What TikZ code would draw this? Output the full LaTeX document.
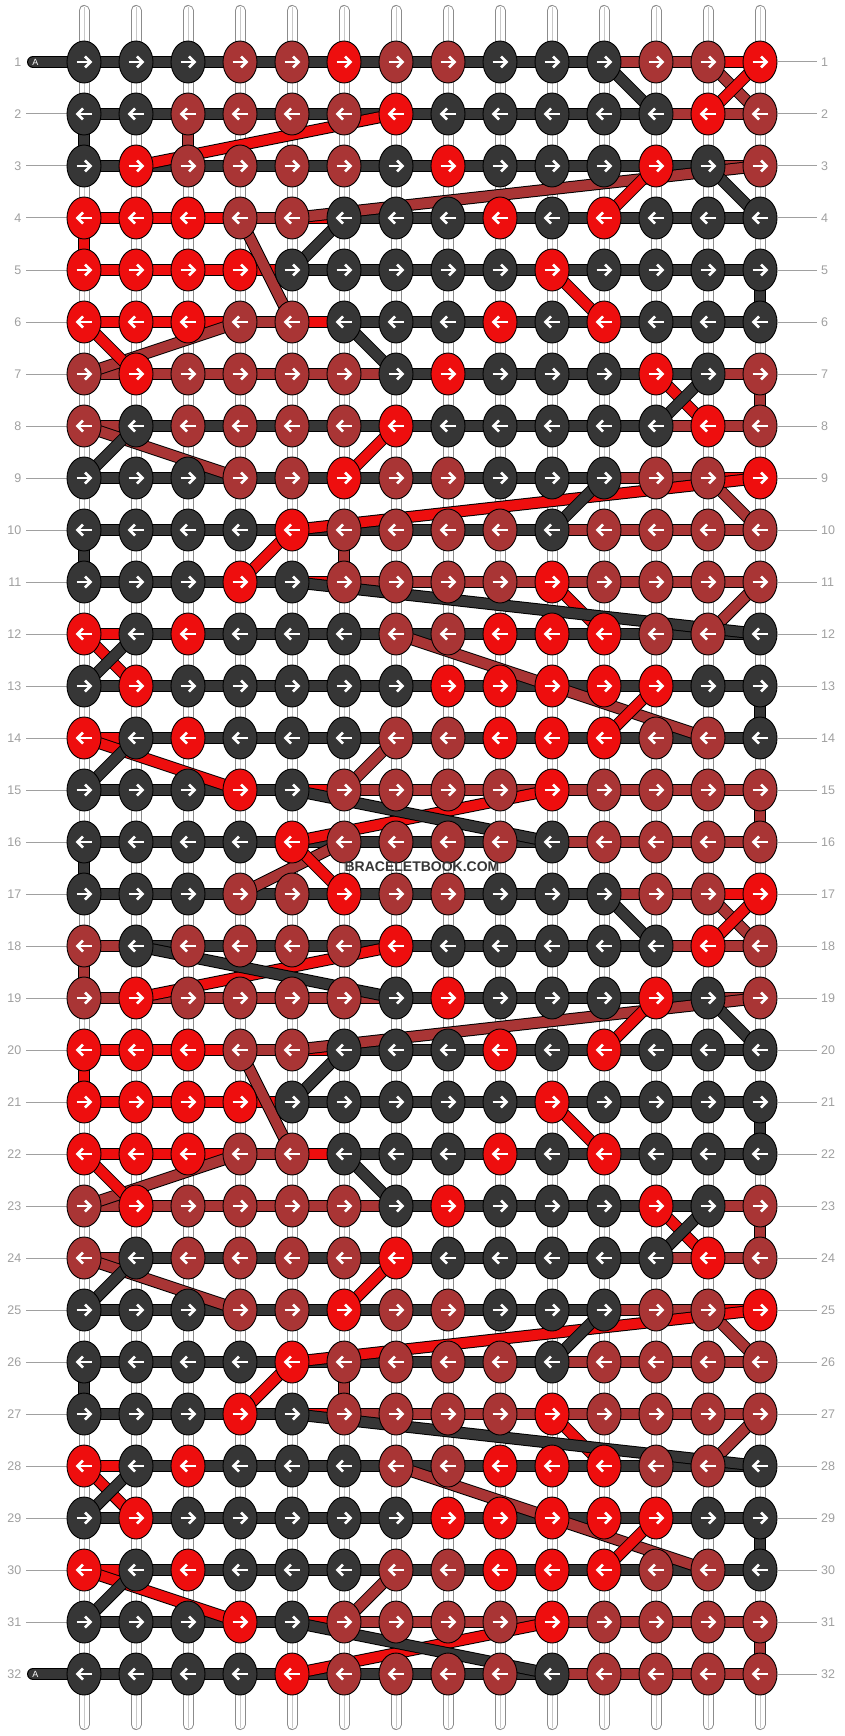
\documentclass[tikz,border=0pt]{standalone}
\usepackage{fontspec}
\setmainfont{Liberation Sans}
\usetikzlibrary{shapes.geometric}
\definecolor{kD}{HTML}{363636}
\definecolor{kR}{HTML}{EE0E0E}
\definecolor{kB}{HTML}{A93535}
\definecolor{labgray}{HTML}{A0A0A0}
\definecolor{rodgray}{HTML}{8C8C8C}
\definecolor{rodline}{HTML}{C8C8C8}
\pgfdeclarelayer{bg}
\pgfdeclarelayer{rods}
\pgfdeclarelayer{hR}\pgfdeclarelayer{hB}\pgfdeclarelayer{hD}
\pgfdeclarelayer{dB}\pgfdeclarelayer{dR}\pgfdeclarelayer{dD}
\pgfsetlayers{bg,rods,hR,hB,hD,dB,dR,dD,main}
\newcommand\thrseg[4]{%
  \begin{pgfonlayer}{#1}%
    \draw[line width=12pt,black] (#3.center) -- (#4.center);%
    \draw[line width=10pt,#2] (#3.center) -- (#4.center);%
  \end{pgfonlayer}}
\tikzset{
  knot/.style={ellipse,draw=black,line width=0.9pt,minimum width=34pt,minimum height=42pt,inner sep=0pt},
  arrw/.style={white,line width=2.6pt,line join=miter,line cap=butt},
  labl/.style={text=labgray,font=\fontsize{12.5}{14}\selectfont,inner sep=0pt},
  tick/.style={labgray,line width=1pt},
}
\def\rowdata{%
1/{D,D,D,B,B,R,B,B,D,D,D,B,B,R},
2/{D,D,B,B,B,B,R,D,D,D,D,D,R,B},
3/{D,R,B,B,B,B,D,R,D,D,D,R,D,B},
4/{R,R,R,B,B,D,D,D,R,D,R,D,D,D},
5/{R,R,R,R,D,D,D,D,D,R,D,D,D,D},
6/{R,R,R,B,B,D,D,D,R,D,R,D,D,D},
7/{B,R,B,B,B,B,D,R,D,D,D,R,D,B},
8/{B,D,B,B,B,B,R,D,D,D,D,D,R,B},
9/{D,D,D,B,B,R,B,B,D,D,D,B,B,R},
10/{D,D,D,D,R,B,B,B,B,D,B,B,B,B},
11/{D,D,D,R,D,B,B,B,B,R,B,B,B,B},
12/{R,D,R,D,D,D,B,B,R,R,R,B,B,D},
13/{D,R,D,D,D,D,D,R,R,R,R,R,D,D},
14/{R,D,R,D,D,D,B,B,R,R,R,B,B,D},
15/{D,D,D,R,D,B,B,B,B,R,B,B,B,B},
16/{D,D,D,D,R,B,B,B,B,D,B,B,B,B},
17/{D,D,D,B,B,R,B,B,D,D,D,B,B,R},
18/{B,D,B,B,B,B,R,D,D,D,D,D,R,B},
19/{B,R,B,B,B,B,D,R,D,D,D,R,D,B},
20/{R,R,R,B,B,D,D,D,R,D,R,D,D,D},
21/{R,R,R,R,D,D,D,D,D,R,D,D,D,D},
22/{R,R,R,B,B,D,D,D,R,D,R,D,D,D},
23/{B,R,B,B,B,B,D,R,D,D,D,R,D,B},
24/{B,D,B,B,B,B,R,D,D,D,D,D,R,B},
25/{D,D,D,B,B,R,B,B,D,D,D,B,B,R},
26/{D,D,D,D,R,B,B,B,B,D,B,B,B,B},
27/{D,D,D,R,D,B,B,B,B,R,B,B,B,B},
28/{R,D,R,D,D,D,B,B,R,R,R,B,B,D},
29/{D,R,D,D,D,D,D,R,R,R,R,R,D,D},
30/{R,D,R,D,D,D,B,B,R,R,R,B,B,D},
31/{D,D,D,R,D,B,B,B,B,R,B,B,B,B},
32/{D,D,D,D,R,B,B,B,B,D,B,B,B,B}}
\begin{document}
\begin{tikzpicture}[x=1pt,y=-1pt]
\begin{pgfonlayer}{bg}\fill[white] (0,0) rectangle (844,1736);\end{pgfonlayer}
\useasboundingbox (0,0) rectangle (844,1736);
% rods
\begin{pgfonlayer}{rods}
\foreach \cc in {1,...,14}{
  \pgfmathsetmacro\xx{84+52*(\cc-1)}
  \draw[rodgray,line width=11pt,line cap=round] (\xx,10.5) -- (\xx,1724.5);
  \draw[white,line width=9pt,line cap=round] (\xx,10.5) -- (\xx,1724.5);
  \draw[rodline,line width=0.9pt] (\xx,7) -- (\xx,1728);
}
\end{pgfonlayer}
% knots
\foreach \rr/\lst in \rowdata {
  \foreach \kk [count=\cc] in \lst {
    \edef\fc{k\kk}
    \node[knot,fill=\fc] (k-\rr-\cc) at ({84+52*(\cc-1)},{62+52*(\rr-1)}) {};
    \expandafter\xdef\csname kc-\rr-\cc\endcsname{\kk}
    \ifodd\rr
      \draw[arrw] ([xshift=-7.5pt]k-\rr-\cc.center) -- ([xshift=6pt]k-\rr-\cc.center);
      \draw[arrw] ([xshift=1pt,yshift=5.5pt]k-\rr-\cc.center) -- ([xshift=6.5pt]k-\rr-\cc.center) -- ([xshift=1pt,yshift=-5.5pt]k-\rr-\cc.center);
    \else
      \draw[arrw] ([xshift=7.5pt]k-\rr-\cc.center) -- ([xshift=-6pt]k-\rr-\cc.center);
      \draw[arrw] ([xshift=-1pt,yshift=5.5pt]k-\rr-\cc.center) -- ([xshift=-6.5pt]k-\rr-\cc.center) -- ([xshift=-1pt,yshift=-5.5pt]k-\rr-\cc.center);
    \fi
  }
}
% threads
\foreach \rr in {1,...,32}{
  \foreach \j in {1,...,14}{
    \ifodd\rr \edef\cc{\j}\else \pgfmathtruncatemacro\cc{15-\j}\fi
    \edef\kc{\csname kc-\rr-\cc\endcsname}%
    \ifcsname last\kc\endcsname
      \edef\prv{\csname last\kc\endcsname}%
      \edef\prvrow{\csname lastrow\kc\endcsname}%
      \ifnum\prvrow=\rr\relax
        \edef\tmp{\noexpand\thrseg{h\kc}{k\kc}{\prv}{k-\rr-\cc}}%
      \else
        \edef\tmp{\noexpand\thrseg{d\kc}{k\kc}{\prv}{k-\rr-\cc}}%
      \fi
      \tmp
    \fi
    \expandafter\xdef\csname last\kc\endcsname{k-\rr-\cc}%
    \expandafter\xdef\csname lastrow\kc\endcsname{\rr}%
  }
}
% start / end stubs of thread A
\coordinate (sA1) at (33,62);
\coordinate (sA32) at (33,1674);
\begin{pgfonlayer}{hD}
  \draw[line width=12pt,black,line cap=round] (sA1) -- (k-1-1.center);
  \draw[line width=10pt,kD,line cap=round] (sA1) -- (k-1-1.center);
  \draw[line width=12pt,black,line cap=round] (sA32) -- (k-32-1.center);
  \draw[line width=10pt,kD,line cap=round] (sA32) -- (k-32-1.center);
\end{pgfonlayer}
\node[text=white,font=\fontsize{9}{10}\selectfont,inner sep=0pt] (tA1) at (35.5,62) {A};
\node[text=white,font=\fontsize{9}{10}\selectfont,inner sep=0pt] (tA32) at (35.5,1674) {A};
% row labels
\foreach \rr in {1,...,32}{
  \pgfmathsetmacro\yy{62+52*(\rr-1)}
  \node[labl,anchor=east] (ll-\rr) at (21.5,\yy) {\rr};
  \node[labl,anchor=west] (lr-\rr) at (821,\yy) {\rr};
  \begin{pgfonlayer}{rods}
  \draw[tick] (778,\yy) -- (817,\yy);
  \ifnum\rr>1 \ifnum\rr<32 \draw[tick] (26,\yy) -- (67,\yy); \fi\fi
  \end{pgfonlayer}
}
% watermark
\node[font=\bfseries\fontsize{14}{16}\selectfont,text=kD,inner sep=0pt] (wm) at (422,867) {BRACELETBOOK.COM};
\end{tikzpicture}
\end{document}
